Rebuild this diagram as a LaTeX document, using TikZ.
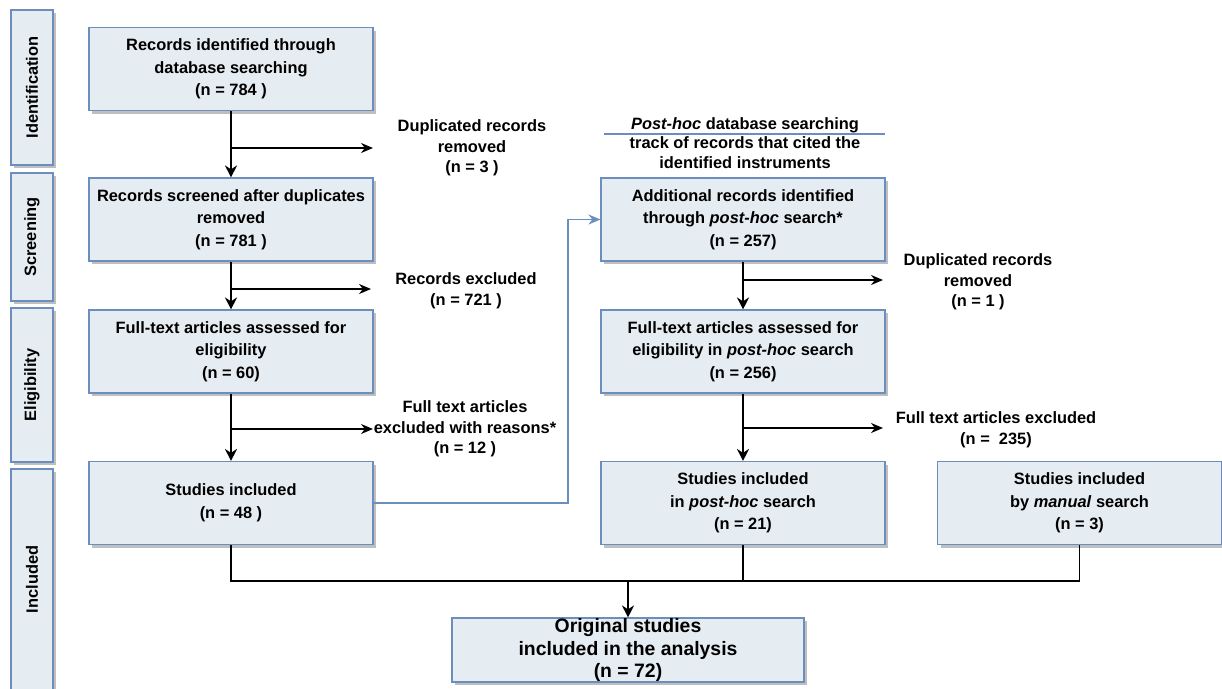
\documentclass[tikz,border=0pt]{standalone}
\usepackage{fontspec}
\setmainfont{Liberation Sans}
\usetikzlibrary{arrows.meta,shadows}
\definecolor{boxfill}{HTML}{E6EDF2}
\definecolor{boxline}{HTML}{6C8EBF}
\tikzset{
  txt/.style={font=\bfseries\fontsize{16.4}{20.5}\selectfont, align=center},
  panel/.style={txt, draw=boxline, fill=boxfill, line width=1.1pt, inner sep=0pt,
    drop shadow={shadow xshift=3pt, shadow yshift=-3pt, fill=black!25, opacity=1}},
  box/.style={panel, minimum width=284pt, minimum height=83pt,
    font=\bfseries\fontsize{16.4}{22.5}\selectfont},
  stage/.style={panel, rotate=90, minimum height=42pt},
  flow/.style={-{Stealth[length=12pt,width=12pt]}, line width=1.8pt},
  side/.style={-{Stealth[length=12pt,width=10pt]}, line width=1.2pt},
  merger/.style={line width=1.4pt},
  link/.style={-{Stealth[length=12pt,width=10pt]}, draw=boxline, line width=1.2pt}
}
\begin{document}
\begin{tikzpicture}[x=1pt,y=-1pt]
    \useasboundingbox (0,0) rectangle (1222,688);
    \clip (0,0) rectangle (1222,688);

    \node[stage, minimum width=155pt] (ident) at (32,87.5) {Identification};
    \node[stage, minimum width=128pt] (screen) at (32,237) {Screening};
    \node[stage, minimum width=154pt] (elig) at (32,385) {Eligibility};
    \node[stage, minimum width=221pt] (incl) at (32,579.5) {Included};

    \node[box] (recid) at (231,69) {Records identified through\\database searching\\(n = 784 )};
    \node[box] (recscr) at (231,219.5) {Records screened after duplicates\\removed\\(n = 781 )};
    \node[box] (fulltext) at (231,351.5) {Full-text articles assessed for\\eligibility\\(n = 60)};
    \node[box] (incl48) at (231,503) {Studies included\\(n = 48 )};

    \node[txt] (dupl) at (472,148) {Duplicated records\\removed\\(n = 3 )};
    \node[txt] (excl) at (466,291) {Records excluded\\(n = 721 )};
    \node[txt] (reasons) at (465,429) {Full text articles\\excluded with reasons*\\(n = 12 )};

    \node[txt, font=\bfseries\fontsize{16.4}{19.5}\selectfont] (phhead) at (745,143)
        {\textit{Post-hoc} database searching\\track of records that cited the\\identified instruments};
    \draw[boxline, line width=1.2pt] (604,134) -- (885,134);

    \node[box] (addrec) at (743,219.5) {Additional records identified\\through \textit{post-hoc} search*\\(n = 257)};
    \node[box] (phfull) at (743,351.5) {Full-text articles assessed for\\eligibility in \textit{post-hoc} search\\(n = 256)};
    \node[box] (phincl) at (743,503) {Studies included\\in \textit{post-hoc} search\\(n = 21)};
    \node[box] (manual) at (1079.5,503) {Studies included\\by \textit{manual} search\\(n = 3)};

    \node[txt] (phdupl) at (978,282) {Duplicated records\\removed\\(n = 1 )};
    \node[txt] (phexcl) at (996,430) {Full text articles excluded\\(n = \ 235)};

    \node[box, minimum width=352pt, minimum height=64pt,
          font=\bfseries\fontsize{19.4}{22.5}\selectfont] (final) at (628,650)
        {Original studies\\included in the analysis\\(n = 72)};

    \coordinate (duplend) at (373,148);
    \coordinate (exclend) at (371,289);
    \coordinate (reasend) at (373,429);
    \coordinate (phduplend) at (883,280);
    \coordinate (phexclend) at (883,428);
    \coordinate (bend) at (568,503);
    \coordinate (merge) at (628,581);

    \draw[flow] (recid) -- (recscr);
    \draw[flow] (recscr) -- (fulltext);
    \draw[flow] (fulltext) -- (incl48);
    \draw[side] (recid.south |- duplend) -- (duplend);
    \draw[side] (recscr.south |- exclend) -- (exclend);
    \draw[side] (fulltext.south |- reasend) -- (reasend);

    \draw[link] (incl48.east) -- (bend) |- (addrec.west);

    \draw[flow] (addrec) -- (phfull);
    \draw[flow] (phfull) -- (phincl);
    \draw[side] (addrec.south |- phduplend) -- (phduplend);
    \draw[side] (phfull.south |- phexclend) -- (phexclend);

    \draw[merger] (incl48.south) |- (manual.south |- merge) -- (manual.south);
    \draw[merger] (phincl.south) -- (phincl.south |- merge);
    \draw[flow, line width=2.6pt] (merge) -- (final.north);
\end{tikzpicture}
\end{document}
